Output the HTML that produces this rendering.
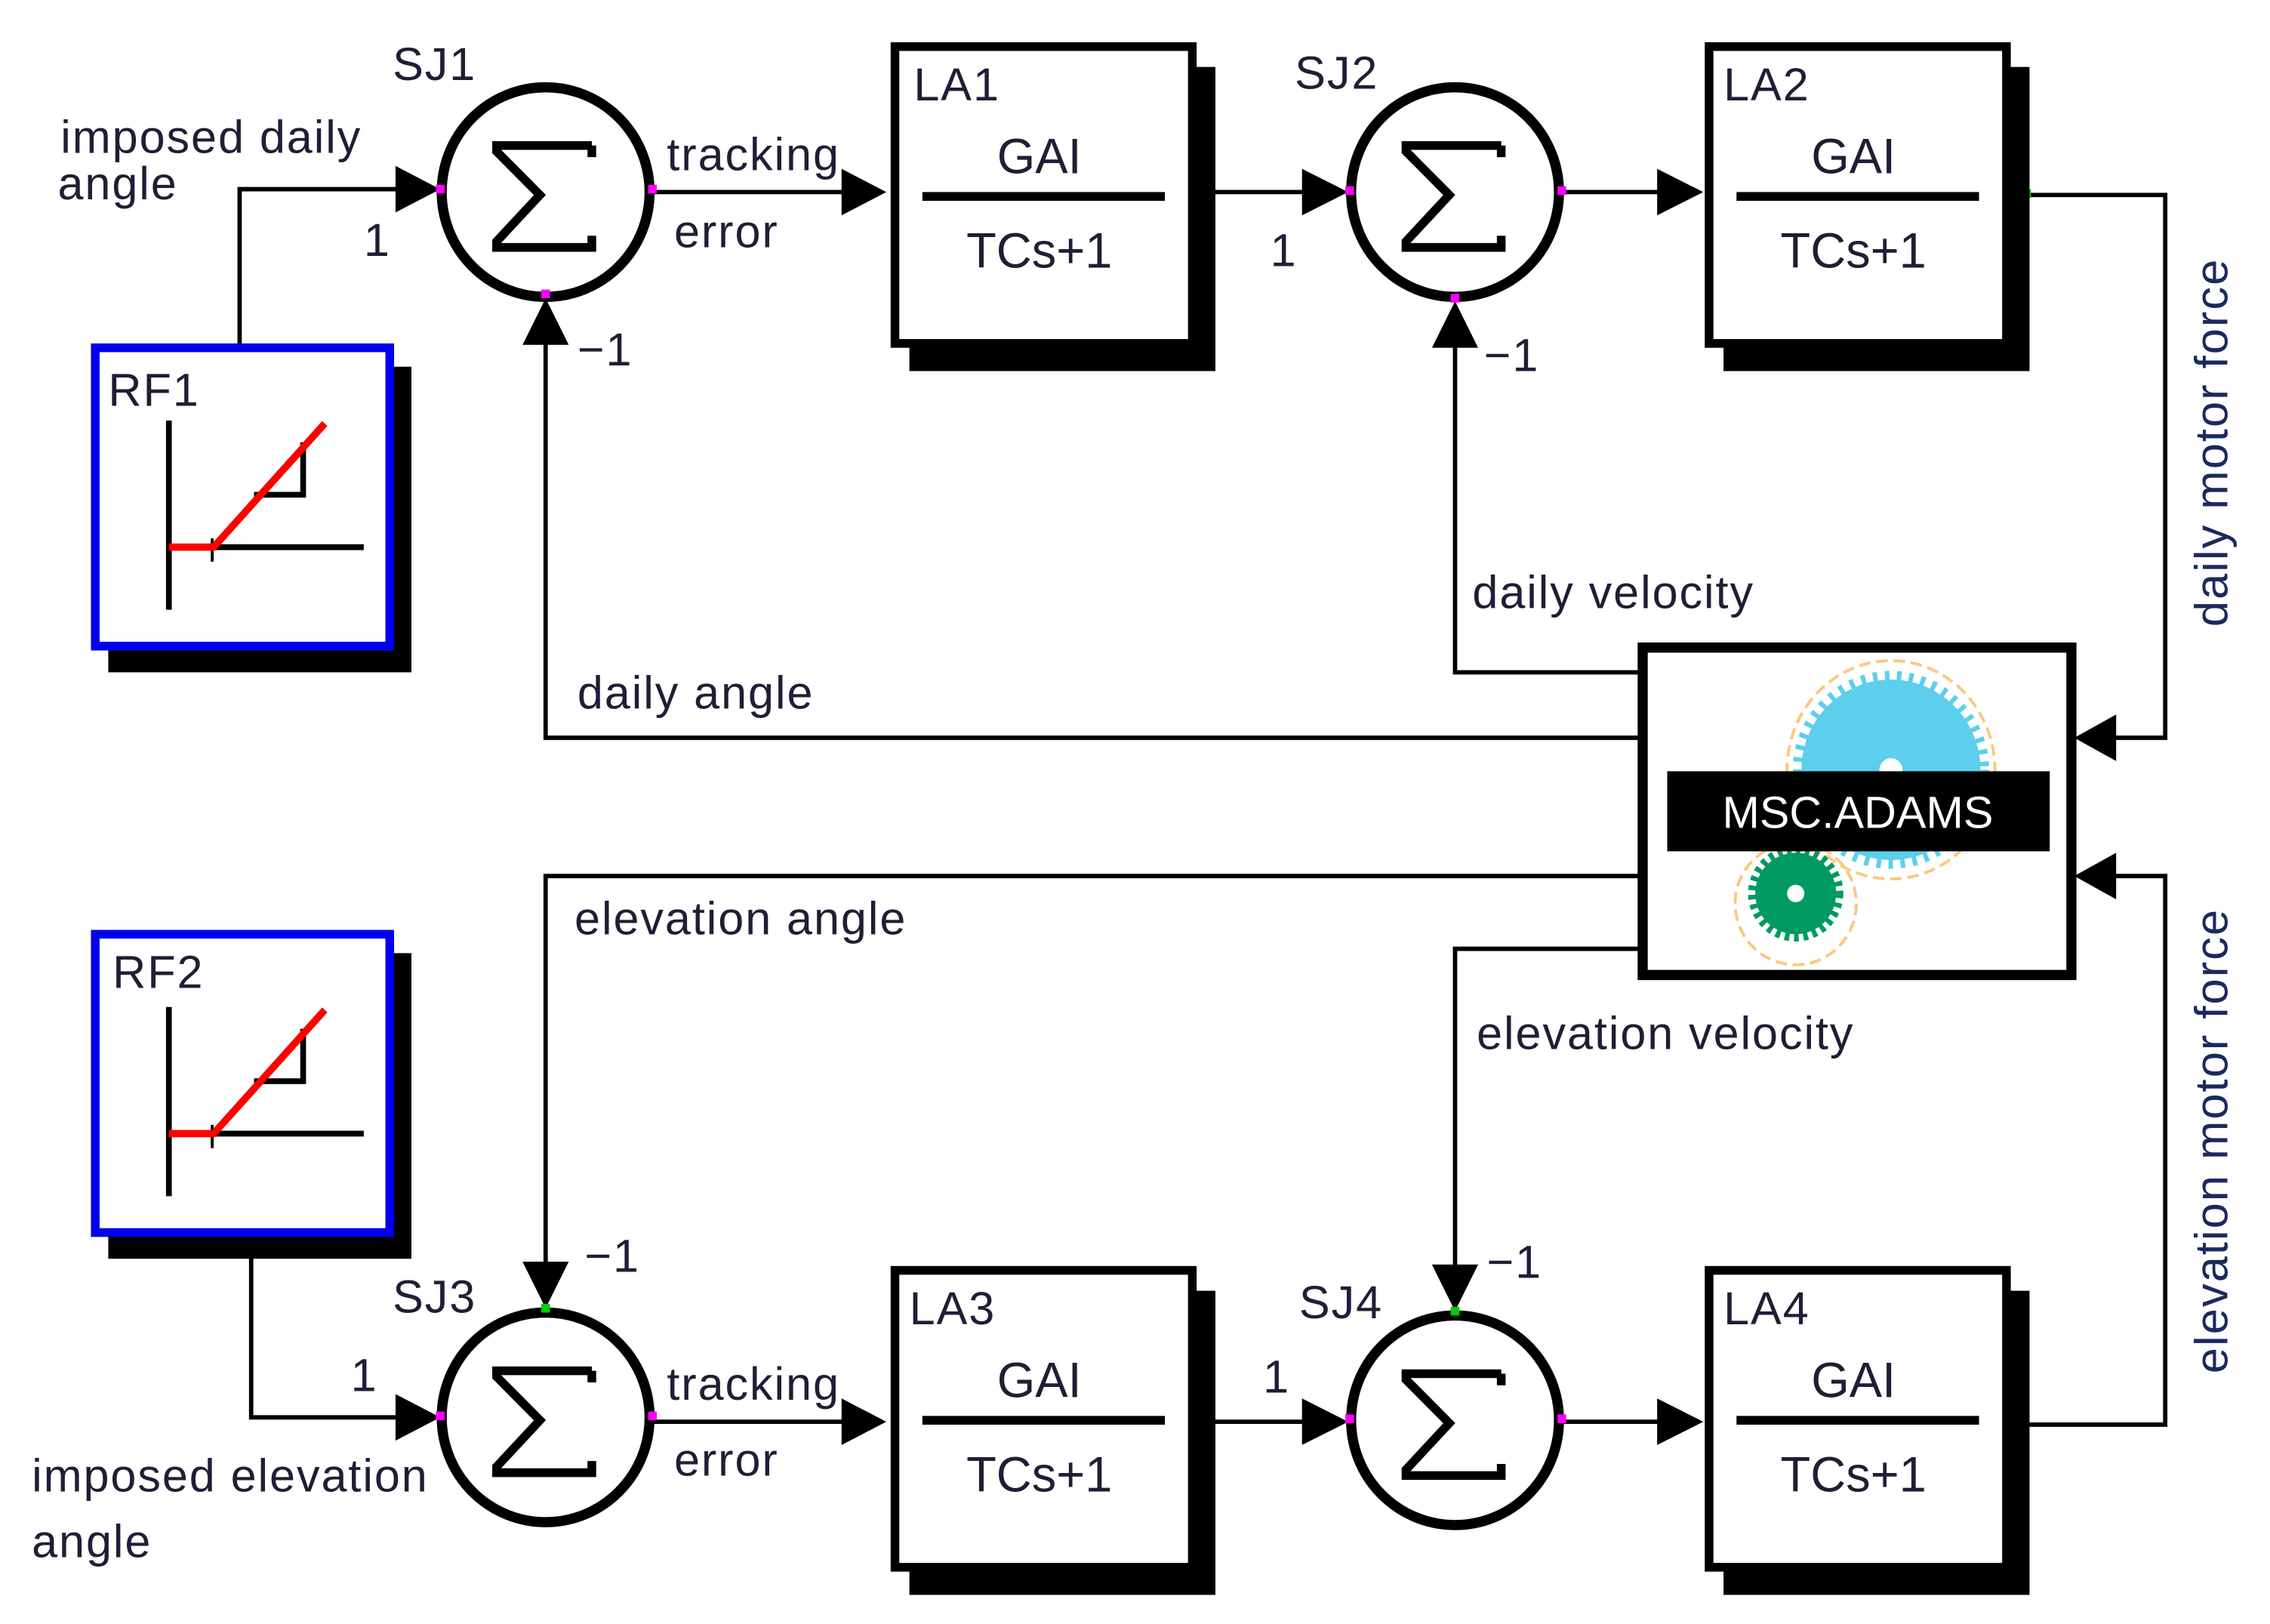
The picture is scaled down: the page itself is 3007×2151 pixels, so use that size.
<!DOCTYPE html>
<html><head><meta charset="utf-8"><style>
html,body{margin:0;padding:0;background:#fff;}
svg{display:block;}
text{font-family:"Liberation Sans",sans-serif;fill:#1e1e36;}
</style></head><body>
<svg width="3007" height="2151" viewBox="0 0 1560 1116" preserveAspectRatio="none" xmlns="http://www.w3.org/2000/svg">
<defs>
<g id="sum">
<circle cx="0" cy="0" r="72" fill="#fff" stroke="#000" stroke-width="7"/>
<path d="M32,-32 L-34,-32 L-34,-28 L-4,2 L-34,34 L-34,38 L32,38 L32,30 M32,-32 L32,-24" fill="none" stroke="#000" stroke-width="6"/>
</g>
<g id="la">
<rect x="13" y="17" width="212" height="209" fill="#000"/>
<rect x="3" y="3" width="206" height="204" fill="#fff" stroke="#000" stroke-width="6"/>
<line x1="22" y1="106" x2="190" y2="106" stroke="#000" stroke-width="6"/>
<text x="103" y="90" font-size="34" text-anchor="middle">GAI</text>
<text x="103" y="155" font-size="34" text-anchor="middle">TCs+1</text>
</g>
<g id="rf">
<rect x="12" y="16" width="210" height="210" fill="#000"/>
<rect x="3" y="3" width="204" height="205" fill="#fff" stroke="#0000ee" stroke-width="6"/>
<line x1="54" y1="53" x2="54" y2="183" stroke="#000" stroke-width="4"/>
<line x1="54" y1="140" x2="189" y2="140" stroke="#000" stroke-width="4"/>
<line x1="84" y1="134" x2="84" y2="150" stroke="#000" stroke-width="2"/>
<path d="M113,104 L147,104 L147,68" fill="none" stroke="#000" stroke-width="4"/>
<path d="M54,140 L85,140 L162,55" fill="none" stroke="#f00" stroke-width="5"/>
</g>
</defs>
<g transform="matrix(0.992,0,0,1,0,-1)">
<g stroke="#000" stroke-width="3" fill="none">
<polyline points="166,237 166,131 290,131"/>
<line x1="452" y1="133" x2="600" y2="133"/>
<line x1="823" y1="133" x2="918" y2="133"/>
<line x1="1082" y1="133" x2="1165" y2="133"/>
<polyline points="1403,135 1500,135 1500,508 1455,508"/>
<polyline points="1135,463 1008,463 1008,222"/>
<polyline points="1135,508 378,508 378,222"/>
<polyline points="1135,603 378,603 378,882"/>
<polyline points="1135,653 1008,653 1008,884"/>
<polyline points="174,864 174,975 290,975"/>
<line x1="452" y1="978" x2="600" y2="978"/>
<line x1="823" y1="978" x2="918" y2="978"/>
<line x1="1082" y1="978" x2="1165" y2="978"/>
<polyline points="1403,980 1500,980 1500,603 1455,603"/>
</g>
<g fill="#000">
<polygon points="274,115 305,131 274,147"/>
<polygon points="583,117 614,133 583,149"/>
<polygon points="902,117 934,133 902,149"/>
<polygon points="1148,117 1180,133 1148,149"/>
<polygon points="362,238 378,206 394,238"/>
<polygon points="992,240 1008,208 1024,240"/>
<polygon points="1466,492 1437,508 1466,524"/>
<polygon points="1466,587 1437,603 1466,619"/>
<polygon points="362,868 378,900 394,868"/>
<polygon points="992,870 1008,902 1024,870"/>
<polygon points="274,959 305,975 274,991"/>
<polygon points="583,962 614,978 583,994"/>
<polygon points="902,962 934,978 902,994"/>
<polygon points="1148,962 1180,978 1148,994"/>
</g>

<use href="#sum" x="378" y="133"/>
<use href="#sum" x="1008" y="133"/>
<use href="#sum" x="378" y="975"/>
<use href="#sum" x="1008" y="977"/>
<g fill="#f0f">
<rect x="302" y="128" width="6" height="6"/><rect x="449" y="128" width="6" height="6"/><rect x="375" y="200" width="6" height="6"/>
<rect x="932" y="129" width="6" height="6"/><rect x="1079" y="129" width="6" height="6"/><rect x="1005" y="203" width="6" height="6"/>
<rect x="302" y="971" width="6" height="6"/><rect x="449" y="971" width="6" height="6"/>
<rect x="932" y="973" width="6" height="6"/><rect x="1079" y="973" width="6" height="6"/>
</g>
<g fill="#00cc00">
<rect x="375" y="897" width="6" height="6"/><rect x="1005" y="899" width="6" height="6"/>
<rect x="1401" y="131" width="6" height="6"/>
<rect x="1429" y="505" width="7" height="7"/><rect x="1429" y="599" width="7" height="7"/>
</g>

<use href="#la" x="617" y="30"/>
<use href="#la" x="1181" y="30"/>
<use href="#la" x="617" y="871"/>
<use href="#la" x="1181" y="871"/>
<use href="#rf" x="63" y="237"/>
<use href="#rf" x="63" y="640"/>

<rect x="1138" y="446" width="297" height="225" fill="#fff" stroke="#000" stroke-width="7"/>
<ellipse cx="1310" cy="530" rx="72" ry="75" fill="none" stroke="#fcc77c" stroke-width="2" stroke-dasharray="8,4"/>
<circle cx="1310" cy="530" r="62" fill="#5ccfec" stroke="#5ccfec" stroke-width="12" stroke-dasharray="3,5"/>
<circle cx="1310" cy="530" r="8" fill="#fff"/>
<ellipse cx="1244" cy="622" rx="42" ry="42" fill="none" stroke="#fcc77c" stroke-width="2" stroke-dasharray="8,4"/>
<circle cx="1244" cy="615" r="28" fill="#019a62" stroke="#019a62" stroke-width="10" stroke-dasharray="3,3"/>
<circle cx="1244" cy="615" r="6" fill="#fff"/>
<rect x="1155" y="531" width="265" height="55" fill="#000"/>
<text x="1287" y="570" font-size="31" text-anchor="middle" style="fill:#fff">MSC.ADAMS</text>

<g font-size="32" letter-spacing="1">
<text x="272" y="56">SJ1</text>
<text x="897" y="62">SJ2</text>
<text x="272" y="903">SJ3</text>
<text x="900" y="907">SJ4</text>
<text x="633" y="70">LA1</text>
<text x="1194" y="70">LA2</text>
<text x="630" y="911">LA3</text>
<text x="1194" y="911">LA4</text>
<text x="75" y="280">RF1</text>
<text x="78" y="680">RF2</text>
<text x="42" y="106">imposed daily</text>
<text x="40" y="138">angle</text>
<text x="462" y="118">tracking</text>
<text x="467" y="171">error</text>
<text x="462" y="963">tracking</text>
<text x="467" y="1015">error</text>
<text x="252" y="177">1</text>
<text x="400" y="252">−1</text>
<text x="880" y="184">1</text>
<text x="1028" y="256">−1</text>
<text x="405" y="875">−1</text>
<text x="1030" y="879">−1</text>
<text x="243" y="957">1</text>
<text x="875" y="958">1</text>
<text x="1020" y="419">daily velocity</text>
<text x="400" y="488">daily angle</text>
<text x="398" y="643">elevation angle</text>
<text x="1023" y="722">elevation velocity</text>
<text x="22" y="1026">imposed elevation</text>
<text x="22" y="1071">angle</text>
<text transform="translate(1543,305) rotate(-90)" text-anchor="middle" style="fill:#1a2a5e">daily motor force</text>
<text transform="translate(1543,785) rotate(-90)" text-anchor="middle" style="fill:#1a2a5e">elevation motor force</text>
</g>
</g>
</svg>
</body></html>
